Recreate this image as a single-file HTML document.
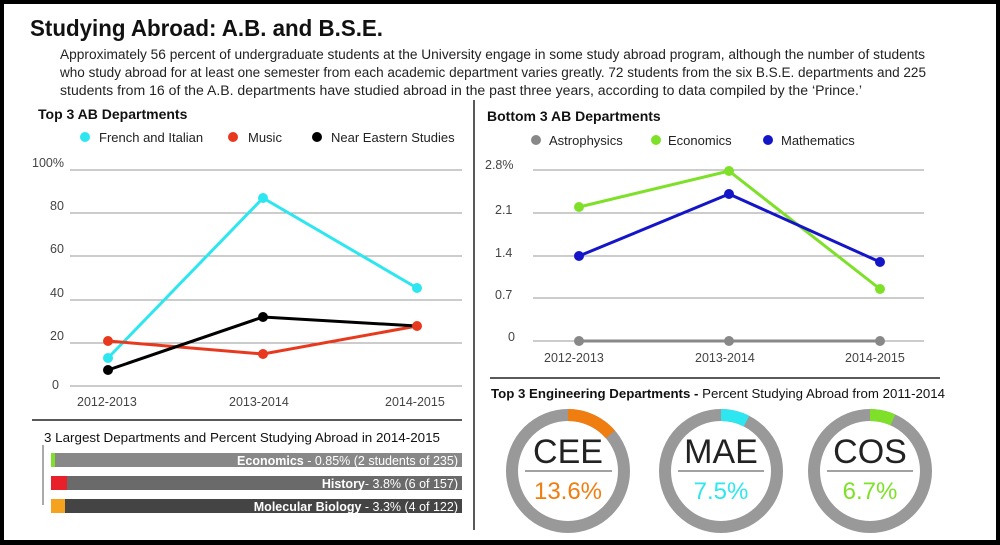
<!DOCTYPE html>
<html><head><meta charset="utf-8"><style>
html,body{margin:0;padding:0;background:#000;}
svg{display:block;font-family:"Liberation Sans",sans-serif;}
</style></head><body>
<svg width="1000" height="545" xmlns="http://www.w3.org/2000/svg">
<rect x="0" y="0" width="1000" height="545" fill="#000"/>
<rect x="4" y="4" width="992" height="536" fill="#fff"/>
<text x="30" y="36" font-size="23" font-weight="bold" fill="#111" textLength="353" lengthAdjust="spacingAndGlyphs">Studying Abroad: A.B. and B.S.E.</text>
<g font-size="13.5" fill="#222">
<text x="60" y="59" textLength="865" lengthAdjust="spacingAndGlyphs">Approximately 56 percent of undergraduate students at the University engage in some study abroad program, although the number of students</text>
<text x="60" y="77" textLength="866" lengthAdjust="spacingAndGlyphs">who study abroad for at least one semester from each academic department varies greatly. 72 students from the six B.S.E. departments and 225</text>
<text x="60" y="95" textLength="802" lengthAdjust="spacingAndGlyphs">students from 16 of the A.B. departments have studied abroad in the past three years, according to data compiled by the ‘Prince.’</text>
</g>
<!-- Left chart -->
<text x="38" y="119" font-size="14" font-weight="bold" fill="#111">Top 3 AB Departments</text>
<g font-size="13" fill="#222">
<circle cx="85" cy="137" r="5" fill="#2ee6ef"/><text x="99" y="142">French and Italian</text>
<circle cx="233" cy="137" r="5" fill="#e8391f"/><text x="248" y="142">Music</text>
<circle cx="317" cy="137" r="5" fill="#000"/><text x="331" y="142">Near Eastern Studies</text>
</g>
<g stroke="#999" stroke-width="1">
<line x1="70" y1="170" x2="462" y2="170"/><line x1="70" y1="213" x2="462" y2="213"/><line x1="70" y1="256" x2="462" y2="256"/><line x1="70" y1="300" x2="462" y2="300"/><line x1="70" y1="343" x2="462" y2="343"/><line x1="70" y1="386" x2="462" y2="386"/>
</g>
<g font-size="12.5" fill="#444">
<text x="32" y="167">100%</text><text x="50" y="210">80</text><text x="50" y="253">60</text><text x="50" y="297">40</text><text x="50" y="340">20</text><text x="52" y="389">0</text>
<text x="77" y="406">2012-2013</text><text x="229" y="406">2013-2014</text><text x="385" y="406">2014-2015</text>
</g>
<g stroke-width="3" fill="none">
<polyline points="108,358 263,198 417,288" stroke="#2ee6ef"/>
<polyline points="108,341 263,354 417,326" stroke="#e8391f"/>
<polyline points="108,370 263,317 417,326" stroke="#000"/>
</g>
<circle cx="108" cy="358" r="5" fill="#2ee6ef"/><circle cx="263" cy="198" r="5" fill="#2ee6ef"/><circle cx="417" cy="288" r="5" fill="#2ee6ef"/>
<circle cx="108" cy="341" r="5" fill="#e8391f"/><circle cx="263" cy="354" r="5" fill="#e8391f"/><circle cx="417" cy="326" r="5" fill="#e8391f"/>
<circle cx="108" cy="370" r="5" fill="#000"/><circle cx="263" cy="317" r="5" fill="#000"/>
<line x1="32" y1="420" x2="462" y2="420" stroke="#222" stroke-width="1.5"/>
<line x1="474" y1="100" x2="474" y2="530" stroke="#222" stroke-width="1.5"/>
<!-- Bars -->
<text x="44" y="442" font-size="13" fill="#111" textLength="396" lengthAdjust="spacingAndGlyphs">3 Largest Departments and Percent Studying Abroad in 2014-2015</text>
<line x1="43" y1="445" x2="43" y2="505" stroke="#555" stroke-width="1"/>
<rect x="51" y="453" width="411" height="14" fill="#888"/><rect x="51" y="453" width="4" height="14" fill="#7fe02a"/>
<rect x="51" y="476" width="411" height="14" fill="#6a6a6a"/><rect x="51" y="476" width="16" height="14" fill="#e8202a"/>
<rect x="51" y="499" width="411" height="14" fill="#444"/><rect x="51" y="499" width="14" height="14" fill="#f5a21f"/>
<g font-size="12.5" fill="#fff" text-anchor="end">
<text x="458" y="465"><tspan font-weight="bold">Economics</tspan> - 0.85% (2 students of 235)</text>
<text x="458" y="488"><tspan font-weight="bold">History</tspan>- 3.8% (6 of 157)</text>
<text x="458" y="511"><tspan font-weight="bold">Molecular Biology</tspan> - 3.3% (4 of 122)</text>
</g>
<!-- Right chart -->
<text x="487" y="121" font-size="14" font-weight="bold" fill="#111">Bottom 3 AB Departments</text>
<g font-size="13" fill="#222">
<circle cx="536" cy="140" r="5" fill="#888"/><text x="549" y="145">Astrophysics</text>
<circle cx="656" cy="140" r="5" fill="#7fe02a"/><text x="668" y="145">Economics</text>
<circle cx="768" cy="140" r="5" fill="#1515c8"/><text x="781" y="145">Mathematics</text>
</g>
<g stroke="#999" stroke-width="1">
<line x1="533" y1="170" x2="924" y2="170"/><line x1="533" y1="213" x2="924" y2="213"/><line x1="533" y1="256" x2="924" y2="256"/><line x1="533" y1="298" x2="924" y2="298"/><line x1="533" y1="341" x2="924" y2="341"/>
</g>
<g font-size="12.5" fill="#444">
<text x="485" y="169">2.8%</text><text x="495" y="214">2.1</text><text x="495" y="257">1.4</text><text x="495" y="299">0.7</text><text x="508" y="341">0</text>
<text x="544" y="362">2012-2013</text><text x="695" y="362">2013-2014</text><text x="845" y="362">2014-2015</text>
</g>
<line x1="579" y1="341" x2="880" y2="341" stroke="#888" stroke-width="3"/>
<polyline points="579,207 729,171 880,289" stroke="#7fe02a" stroke-width="3" fill="none"/>
<polyline points="579,256 729,194 880,262" stroke="#1515c8" stroke-width="3" fill="none"/>
<circle cx="579" cy="341" r="5" fill="#888"/><circle cx="729" cy="341" r="5" fill="#888"/><circle cx="880" cy="341" r="5" fill="#888"/>
<circle cx="579" cy="207" r="5" fill="#7fe02a"/><circle cx="729" cy="171" r="5" fill="#7fe02a"/><circle cx="880" cy="289" r="5" fill="#7fe02a"/>
<circle cx="579" cy="256" r="5" fill="#1515c8"/><circle cx="729" cy="194" r="5" fill="#1515c8"/><circle cx="880" cy="262" r="5" fill="#1515c8"/>
<line x1="490" y1="378" x2="940" y2="378" stroke="#222" stroke-width="1.5"/>
<!-- Donuts -->
<text x="491" y="398" font-size="13" fill="#111" textLength="454" lengthAdjust="spacingAndGlyphs"><tspan font-weight="bold">Top 3 Engineering Departments -</tspan> Percent Studying Abroad from 2011-2014</text>
<g fill="none" stroke-width="12">
<circle cx="568" cy="471" r="56" stroke="#999"/>
<circle cx="568" cy="471" r="56" stroke="#f07d10" stroke-dasharray="47.9 400" transform="rotate(-90 568 471)"/>
<circle cx="721" cy="471" r="56" stroke="#999"/>
<circle cx="721" cy="471" r="56" stroke="#2ee6ef" stroke-dasharray="26.4 400" transform="rotate(-90 721 471)"/>
<circle cx="870" cy="471" r="56" stroke="#999"/>
<circle cx="870" cy="471" r="56" stroke="#7fe02a" stroke-dasharray="23.6 400" transform="rotate(-90 870 471)"/>
</g>
<g stroke="#444" stroke-width="1">
<line x1="525" y1="471" x2="612" y2="471"/><line x1="678" y1="471" x2="764" y2="471"/><line x1="827" y1="471" x2="913" y2="471"/>
</g>
<g font-size="34" fill="#222" text-anchor="middle">
<text x="568" y="463">CEE</text><text x="721" y="463">MAE</text><text x="870" y="463">COS</text>
</g>
<g font-size="24" text-anchor="middle">
<text x="568" y="499" fill="#f07d10">13.6%</text><text x="721" y="499" fill="#2ee6ef">7.5%</text><text x="870" y="499" fill="#7fe02a">6.7%</text>
</g>
</svg>
</body></html>
